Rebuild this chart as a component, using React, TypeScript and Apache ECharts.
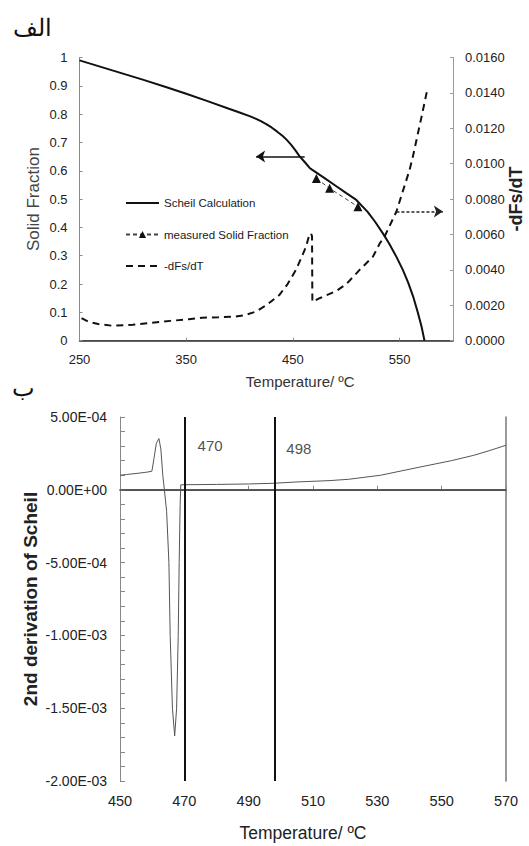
import React, { useEffect, useRef } from "react";
import * as echarts from "echarts";

// ---------- Chart (الف): Scheil solid fraction ----------
const scheilTemp = [250, 270, 290, 310, 331.6, 350, 370, 390, 400, 410, 415, 420, 425, 430, 435, 440.7, 444, 448, 452, 456.3, 461, 465.7, 467.5, 480, 490, 500, 509.4, 520, 527, 534.3, 540, 547, 553, 558, 563, 567, 570.5, 573.3];
const scheilFraction = [0.99, 0.967, 0.944, 0.921, 0.895, 0.872, 0.846, 0.819, 0.806, 0.792, 0.784, 0.775, 0.765, 0.753, 0.739, 0.722, 0.71, 0.693, 0.674, 0.651, 0.631, 0.61, 0.605, 0.573, 0.547, 0.521, 0.497, 0.455, 0.42, 0.379, 0.344, 0.296, 0.25, 0.205, 0.152, 0.1, 0.05, 0];

const measuredTemp = [472, 484.4, 510.9];
const measuredFraction = [0.573, 0.538, 0.473];

const dfsTemp = [251.9, 258, 267.6, 280, 300, 318, 335, 352.4, 364.9, 380, 396.3, 405, 415.1, 425, 437.2, 445, 452.8, 458, 462.2, 465.4, 466.9, 467.9, 468.2, 475, 490.5, 500, 512.5, 525, 531.4, 536, 547, 559.3, 562.4, 570.2, 575.5];
const dfsValue = [0.00127, 0.00108, 0.00094, 0.00085, 0.0009, 0.00102, 0.00112, 0.00121, 0.0013, 0.00132, 0.00136, 0.00145, 0.00164, 0.002, 0.00258, 0.0032, 0.004, 0.0047, 0.0053, 0.006, 0.00607, 0.0059, 0.0022, 0.0024, 0.0028, 0.0032, 0.004, 0.00475, 0.0055, 0.0059, 0.0073, 0.00965, 0.0104, 0.01256, 0.01407];

// arrows pointing to each curve's axis
const arrowLeft = [[461, 0.65], [415.5, 0.65]];
const arrowRight = [[547, 0.0073], [590.5, 0.0073]];

const topXLabels = [250, 350, 450, 550];

// ---------- Chart (ب): 2nd derivation of Scheil ----------
const secondTemp = [450, 452, 455, 458, 459.9, 460.6, 461.3, 462.1, 462.7, 463.3, 463.8, 464.5, 465.2, 465.6, 466.3, 467.0, 467.6, 468.1, 468.4, 468.7, 468.9, 470, 480, 490, 498, 505, 515, 521, 531, 543, 553, 560, 565, 570];
const secondValue = [1.0e-4, 1.05e-4, 1.12e-4, 1.2e-4, 1.27e-4, 2.2e-4, 3.2e-4, 3.52e-4, 2.8e-4, 1.0e-4, 0, -1.5e-4, -5e-4, -1.0e-3, -1.5e-3, -1.69e-3, -1.5e-3, -1.0e-3, -5e-4, -1e-4, 3.4e-5, 3.5e-5, 3.7e-5, 4.0e-5, 4.5e-5, 5.4e-5, 6.3e-5, 7.2e-5, 1.0e-4, 1.55e-4, 2.0e-4, 2.37e-4, 2.7e-4, 3.06e-4];

const markerTemps = [470, 498];
const markerLabelTemp = [478, 505.6];
const markerLabelValue = [3.06e-4, 2.85e-4];

const FONT = "'Liberation Sans', Arial, sans-serif";

function sci(v: number): string {
  if (Math.abs(v) < 1e-12) return "0.00E+00";
  const s = v.toExponential(2);
  const [m, e] = s.split("e");
  const sign = e[0] === "-" ? "-" : "+";
  const d = e.replace(/[+-]/, "").padStart(2, "0");
  return m + "E" + sign + d;
}

export default function App() {
  const ref = useRef<HTMLDivElement>(null);
  useEffect(() => {
    if (!ref.current) return;
    const chart = echarts.init(ref.current, undefined, { renderer: "svg" });
    const zip = (a: number[], b: number[]) => a.map((x, i) => [x, b[i]]);
    const option: any = {
      animation: false,
      backgroundColor: "#ffffff",
      textStyle: { fontFamily: FONT },
      graphic: [
        { type: "text", left: 13, top: 16, style: { text: "الف", font: "24px serif", fill: "#111" } },
        { type: "text", left: 12, top: 376, style: { text: "ب", font: "24px serif", fill: "#111" } },
      ],
      legend: {
        orient: "vertical",
        left: 125,
        top: 197,
        padding: 0,
        itemWidth: 33,
        itemHeight: 9,
        itemGap: 19.5,
        data: [
          { name: "Scheil Calculation", itemStyle: { opacity: 0 } },
          { name: "measured Solid Fraction" },
          { name: "-dFs/dT", itemStyle: { opacity: 0 } },
        ],
        textStyle: { fontSize: 11.5, color: "#1a1a1a", fontFamily: FONT },
      },
      grid: [
        { left: 79.5, top: 57.5, width: 373.5, height: 283.2, outerBoundsMode: "none", containLabel: false },
        { left: 120, top: 417, width: 386, height: 364, outerBoundsMode: "none", containLabel: false },
      ],
      xAxis: [
        {
          gridIndex: 0, type: "value", min: 250, max: 600, interval: 100,
          name: "Temperature/ ºC", nameLocation: "middle", nameGap: 33, nameMoveOverlap: false,
          nameTextStyle: { fontSize: 15, color: "#333", fontFamily: FONT, padding: [0, 0, 0, 68] },
          axisLine: { lineStyle: { color: "#8a8a8a", width: 1 } },
          axisTick: { inside: true, length: 3, lineStyle: { color: "#8a8a8a" } },
          axisLabel: {
            fontSize: 13, color: "#222", margin: 12, showMaxLabel: false,
            formatter: (v: number) => (topXLabels.includes(Math.round(v)) ? String(Math.round(v)) : ""),
          },
          splitLine: { show: false },
        },
        {
          gridIndex: 0, type: "value", position: "top", min: 250, max: 600,
          axisLine: { lineStyle: { color: "#333", width: 1.5 } },
          axisTick: { show: false }, axisLabel: { show: false }, splitLine: { show: false },
        },
        {
          gridIndex: 1, type: "value", min: 450, max: 570, interval: 20,
          name: "Temperature/ ºC", nameLocation: "middle", nameGap: 43, nameMoveOverlap: false,
          nameTextStyle: { fontSize: 17.5, color: "#222", fontFamily: FONT, padding: [0, 20, 0, 0] },
          axisLine: { lineStyle: { color: "#888", width: 1 } },
          axisTick: { inside: true, length: 4, lineStyle: { color: "#888" } },
          axisLabel: { fontSize: 14.5, color: "#222", margin: 12 },
          splitLine: { show: false },
        },
        {
          gridIndex: 1, type: "value", position: "top", min: 450, max: 570,
          axisLine: { lineStyle: { color: "#333", width: 1.5 } },
          axisTick: { show: false }, axisLabel: { show: false }, splitLine: { show: false },
        },
      ],
      yAxis: [
        {
          gridIndex: 0, type: "value", min: 0, max: 1, interval: 0.1,
          name: "Solid Fraction", nameLocation: "middle", nameGap: 38, nameMoveOverlap: false,
          nameTextStyle: { fontSize: 17, color: "#444", fontFamily: FONT },
          axisLine: { show: true, lineStyle: { color: "#8a8a8a" } },
          axisTick: { show: true, inside: true, length: 3, lineStyle: { color: "#8a8a8a" } },
          axisLabel: { fontSize: 13, color: "#222", margin: 12, formatter: (v: number) => String(Math.round(v * 10) / 10) },
          splitLine: { show: false },
        },
        {
          gridIndex: 0, type: "value", position: "right", min: 0, max: 0.016, interval: 0.002,
          name: "-dFs/dT", nameLocation: "middle", nameGap: 54, nameRotate: 90, nameMoveOverlap: false,
          nameTextStyle: { fontSize: 18, fontWeight: "bold", color: "#222", fontFamily: FONT },
          axisLine: { show: true, lineStyle: { color: "#9a9a9a" } },
          axisTick: { show: true, inside: true, length: 3, lineStyle: { color: "#9a9a9a" } },
          axisLabel: { fontSize: 13, color: "#222", margin: 12, formatter: (v: number) => v.toFixed(4) },
          splitLine: { show: false },
        },
        {
          gridIndex: 1, type: "value", min: -0.002, max: 0.0005, interval: 0.0001,
          name: "2nd derivation of Scheil", nameLocation: "middle", nameGap: 80, nameMoveOverlap: false,
          nameTextStyle: { fontSize: 19, fontWeight: "bold", color: "#222", fontFamily: FONT },
          axisLine: { show: true, lineStyle: { color: "#888" } },
          axisTick: { show: true, inside: true, length: 5, lineStyle: { color: "#888" } },
          axisLabel: {
            fontSize: 14, color: "#222", margin: 13,
            formatter: (v: number) => {
              const k = v / 0.0005;
              return Math.abs(k - Math.round(k)) < 1e-6 ? sci(Math.round(k) * 0.0005) : "";
            },
          },
          splitLine: { show: false },
        },
        {
          gridIndex: 1, type: "value", position: "right", min: -0.002, max: 0.0005,
          axisLine: { show: true, lineStyle: { color: "#777", width: 1.5 } },
          axisTick: { show: false }, axisLabel: { show: false }, splitLine: { show: false },
        },
      ],
      series: [
        {
          name: "Scheil Calculation", type: "line", xAxisIndex: 0, yAxisIndex: 0,
          data: zip(scheilTemp, scheilFraction), symbol: "none",
          lineStyle: { color: "#111", width: 2 }, itemStyle: { color: "#111" },
          markLine: {
            silent: true, symbol: ["none", "arrow"], symbolSize: 9,
            label: { show: false },
            lineStyle: { color: "#111", width: 1.5, type: "solid" },
            data: [[{ coord: arrowLeft[0] }, { coord: arrowLeft[1] }]],
          },
        },
        {
          name: "measured Solid Fraction", type: "line", xAxisIndex: 0, yAxisIndex: 0,
          data: zip(measuredTemp, measuredFraction), symbol: "triangle", symbolSize: 9,
          lineStyle: { color: "#444", width: 1, type: [4, 3] }, itemStyle: { color: "#111" },
        },
        {
          name: "-dFs/dT", type: "line", xAxisIndex: 0, yAxisIndex: 1,
          data: zip(dfsTemp, dfsValue), symbol: "none",
          lineStyle: { color: "#111", width: 2, type: [7, 5] }, itemStyle: { color: "#111" },
          markLine: {
            silent: true, symbol: ["none", "arrow"], symbolSize: 9,
            label: { show: false },
            lineStyle: { color: "#222", width: 1.5, type: [3, 2] },
            data: [[{ coord: arrowRight[0] }, { coord: arrowRight[1] }]],
          },
        },
        {
          name: "2nd derivative", type: "line", xAxisIndex: 2, yAxisIndex: 2,
          data: zip(secondTemp, secondValue), symbol: "none",
          lineStyle: { color: "#555", width: 1 }, itemStyle: { color: "#555" },
          markLine: {
            silent: true, symbol: ["none", "none"], label: { show: false },
            data: [
              { yAxis: 0, lineStyle: { color: "#555", width: 1.5, type: "solid" } },
              ...markerTemps.map((t) => ({ xAxis: t, lineStyle: { color: "#111", width: 2, type: "solid" } })),
            ],
          },
        },
        {
          name: "markers", type: "scatter", xAxisIndex: 2, yAxisIndex: 2,
          symbolSize: 0, silent: true,
          data: markerTemps.map((t, i) => [markerLabelTemp[i], markerLabelValue[i], t]),
          label: {
            show: true, position: "inside", fontSize: 15, color: "#222", fontFamily: FONT,
            formatter: (p: any) => String(p.value[2]),
          },
        },
      ],
    };
    chart.setOption(option);
    return () => chart.dispose();
  }, []);
  return <div ref={ref} style={{ position: "fixed", left: 0, top: 0, width: 529, height: 846 }} />;
}
